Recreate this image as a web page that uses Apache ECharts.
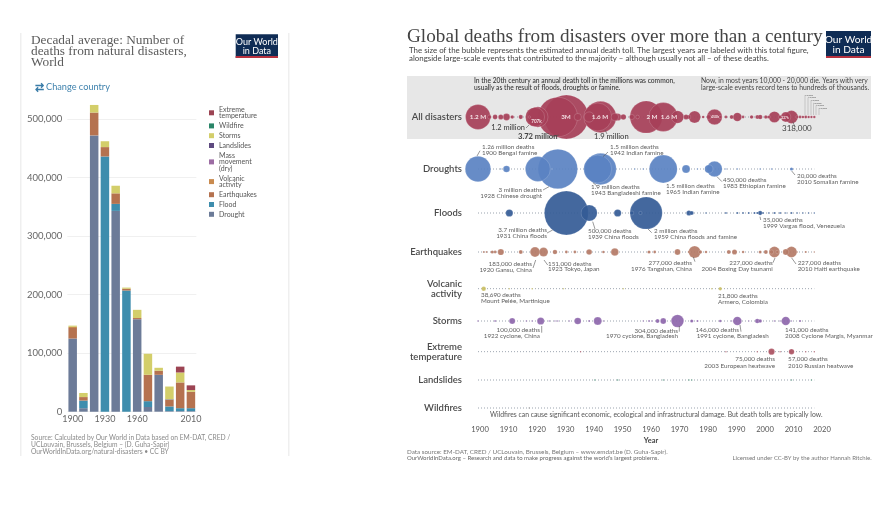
<!DOCTYPE html>
<html><head><meta charset="utf-8">
<style>html,body{margin:0;padding:0;background:#fff}#c{width:887px;height:505px}</style>
<script src="https://cdn.jsdelivr.net/npm/echarts@6/dist/echarts.min.js"></script></head>
<body><div id="c"></div>
<script>
// ---- Left chart: decadal averages ----
const decades = ['1900','1910','1920','1930','1940','1950','1960','1970','1980','1990','2000','2010'];
const drought    = [125000,6000,472000,0,343000,0,158000,8000,63000,1000,1000,1000];
const flood      = [0,13000,0,436000,12000,207000,0,10000,0,8000,5000,5000];
const earthquake = [18000,6000,39000,16000,18000,3000,2000,45000,7000,11000,44000,28000];
const volcanic   = [2000,0,0,0,0,0,0,0,0,0,0,0];
const massMove   = [0,0,0,0,0,0,0,0,0,0,0,0];
const landslides = [0,0,0,0,0,0,0,0,0,1000,0,0];
const storms     = [2000,7000,13000,10000,13000,2000,14000,36000,5000,22000,17000,3000];
const wildfire   = [0,0,0,0,0,0,0,0,0,0,0,0];
const extreme    = [0,0,0,0,0,0,0,0,0,0,10000,8000];

// ---- Right chart: annual deaths by year ----
const rowAll = [[1931,3720000],[1928,3000000],[1959,2000000],[1943,1900000],[1965,1600000],[1942,1500000],[1900,1200000],[1921,800000],[1920,707000],[1983,450000],[2010,318000],[1970,300000],[1976,277000],[2004,240000],[2008,190000],[1991,146000],[1910,90000],[1906,45000],[1908,50000],[1904,30000],[1915,35000],[1912,25000],[1918,12000],[1949,100000],[1951,60000],[1954,50000],[1974,30000],[1973,50000],[1981,40000],[1987,15000],[1989,30000],[1993,15000],[1996,25000],[1998,30000],[1999,40000],[2001,25000],[2002,20000],[2006,25000],[2012,15000],[2013,15000],[2014,14000],[2015,15000],[2016,12000],[2017,11000],[2018,12000],[1935,100000],[1939,200000],[1948,110000],[1956,25000],[1979,14000],[1985,20000]];
const rowDroughts = [[1928,3000000],[1943,1900000],[1965,1500000],[1942,1500000],[1900,1260000],[1921,1200000],[1983,450000],[1973,120000],[1981,130000],[1910,85000],[2010,20000],[1926,3000],[1908,2000],[1955,3000],[1958,3000],[1977,3000],[1987,3000],[1991,4000],[1999,3000],[2003,3000]];
const rowFloods = [[1931,3700000],[1959,2000000],[1939,500000],[1949,100000],[1911,100000],[1974,50000],[1975,30000],[1954,30000],[1957,20000],[1999,35000],[1980,5000],[1987,6000],[1991,7000],[1993,6000],[1995,7000],[1997,8000],[1998,9000],[2000,7000],[2002,5000],[2004,7000],[2006,6000],[2008,5000],[2010,7000],[2012,5000],[2014,5000],[2016,5000],[2018,4000]];
const rowEarthquakes = [[2010,227000],[2004,227000],[1920,183000],[1976,277000],[1923,151000],[1948,110000],[1970,66000],[1908,75000],[1939,60000],[1927,40000],[2008,70000],[1915,30000],[2005,20000],[2001,30000],[1990,50000],[1988,30000],[1905,20000],[1906,15000],[1902,6000],[1903,6000],[1931,15000],[1934,15000],[1944,12000],[1960,20000],[1962,15000],[1978,25000],[1974,10000],[1980,12000],[1993,12000],[1999,18000],[2003,35000],[2012,4000],[2015,9000],[2018,4000]];
const rowVolcanic = [[1902,38690],[1985,21800],[1919,5000],[1911,1500],[1930,1500],[1951,3000],[1982,3000]];
const rowStorms = [[1970,304000],[1991,146000],[2008,141000],[1942,120000],[1922,100000],[1935,85000],[1912,70000],[1965,65000],[1963,30000],[1998,40000],[1999,25000],[1985,12000],[1975,20000],[1906,6000],[1900,5000],[1917,5000],[1919,5000],[1925,5000],[1927,4000],[1928,5000],[1932,4000],[1939,7000],[1944,3000],[1960,6000],[1961,5000],[1977,8000],[2013,9000],[2004,5000],[2006,5000],[2010,3000],[1989,3000],[1958,3000],[1995,3000]];
const rowExtreme = [[2003,75000],[2010,57000],[1936,3000],[2015,3000],[2018,2000],[2006,2000],[1987,1500],[1998,2500]];
const rowLandslides = [[1949,5000],[1941,4000],[1965,1500],[1974,3000],[1975,3000],[2010,3000],[2017,2000]];
const rowWildfires = [[1918,1200]];

const bubbleRows = [
 {name:'All disasters', y:117, color:'#A63F58', values:rowAll},
 {name:'Droughts', y:169, color:'#5A82C2', values:rowDroughts},
 {name:'Floods', y:213, color:'#345B96', values:rowFloods},
 {name:'Earthquakes', y:252, color:'#B47A66', values:rowEarthquakes},
 {name:'Volcanic\nactivity', y:288.7, color:'#C9BE62', values:rowVolcanic},
 {name:'Storms', y:321, color:'#8D66AB', values:rowStorms},
 {name:'Extreme\ntemperature', y:351.7, color:'#AA505F', values:rowExtreme},
 {name:'Landslides', y:380, color:'#3F8A6E', values:rowLandslides},
 {name:'Wildfires', y:408, color:'#8a8a8a', values:rowWildfires}
];
const axisYears = [1900,1910,1920,1930,1940,1950,1960,1970,1980,1990,2000,2010,2020];

const BODY = 'Lato, "Noto Sans", sans-serif';
const SERIF = '"Liberation Serif", "DejaVu Serif", serif';
const G = [];
function rect(x,y,w,h,fill){G.push({type:'rect',silent:true,z:0,shape:{x,y,width:w,height:h},style:{fill}})}
function note(x,y,lines,o){o=o||{};[].concat(lines).forEach((t,i)=>G.push({type:'text',silent:true,z:o.z||5,style:{
  x:x,y:y+i*(o.lh||6.3),text:t,fill:o.fill||'#5e5e5e',fontSize:o.fs||6.3,fontFamily:o.ff||BODY,fontWeight:o.fw||'normal',align:o.align||'left',verticalAlign:'middle'}}))}
function arrow(x1,y1,x2,y2){G.push({type:'line',silent:true,z:5,shape:{x1,y1,x2,y2},style:{stroke:'#555',lineWidth:.6}})}
function logo(x,y,w,h,fs){rect(x,y,w,h,'#0F2C55');rect(x,y+h-2,w,2,'#B8323F');
  note(x+w/2,y+h*.31,['Our World','in Data'],{fill:'#fff',fs:fs,align:'center',lh:fs*1.05})}

// panels
rect(20,33,1.5,423,'#efefef');rect(288,33,1.5,423,'#efefef');
rect(407,76,464,63,'#E7E7E7');
logo(235.7,34.3,42.3,23.7,9);logo(826,31,45,27,10.2);
// left texts
note(31,40.7,['Decadal average: Number of','deaths from natural disasters,','World'],{ff:SERIF,fs:13.3,lh:11,fill:'#5b5b5b'});
note(35,87,'⇄',{fs:11,fill:'#3A7CA8',fw:'bold'});
note(46,87,'Change country',{fs:9.2,fill:'#3F82AD'});
note(31,438,['Source: Calculated by Our World in Data based on EM-DAT, CRED /','UCLouvain, Brussels, Belgium – (D. Guha-Sapir)','OurWorldInData.org/natural-disasters • CC BY'],{fs:6.7,lh:7,fill:'#8a8a8a'});
// right header
note(407,36.5,'Global deaths from disasters over more than a century',{ff:SERIF,fs:19.2,fill:'#444'});
note(409,50,['The size of the bubble represents the estimated annual death toll. The largest years are labeled with this total figure,','alongside large-scale events that contributed to the majority – although usually not all – of these deaths.'],{fs:7.9,lh:8.2,fill:'#444'});
note(474,81,['In the 20th century an annual death toll in the millions was common,','usually as the result of floods, droughts or famine.'],{fs:6.7,lh:6.8,fill:'#333',fw:500});
note(701,81,['Now, in most years 10,000 - 20,000 die. Years with very','large-scale events record tens to hundreds of thousands.'],{fs:6.8,lh:7,fill:'#444'});
// bubble labels
[[478,'1.2 M'],[566,'3M'],[600,'1.6 M'],[652,'2 M'],[669,'1.6 M']].forEach(b=>note(b[0],117,b[1],{fs:6.3,fw:'bold',fill:'#f3dfe3',align:'center',z:6}));
note(536.5,122,'707k',{fs:4.6,fw:'bold',fill:'#f3dfe3',align:'center',z:6});
note(715,117,'450k',{fs:3.6,fw:'bold',fill:'#f3dfe3',align:'center',z:6});
note(785,117.5,'227k',{fs:3.2,fw:'bold',fill:'#f3dfe3',align:'center',z:6});
// all-disasters annotations
note(525,127.7,'1.2 million',{fs:7.4,align:'right',fw:500,fill:'#444'});
note(518,136.7,'3.72 million',{fs:7.6,fw:'bold',fill:'#444'});
note(594,136.7,'1.9 million',{fs:7.6,fw:500,fill:'#444'});
note(782,128.5,'318,000',{fs:8,fill:'#444'});
arrow(526,128,529,125);arrow(552,136.7,559,135);arrow(607,134,605,130);arrow(795,126.7,792.7,121.7);
[805,808,811,813.5,816,819].forEach((x,i)=>{G.push({type:'line',silent:true,z:5,shape:{x1:x,y1:115,x2:x,y2:95+i*2.6},style:{stroke:'#888',lineWidth:.35}});
  note(x,95+i*2.6,'10,000',{fs:2.6,fill:'#666'})});
// row annotations
note(482,147,['1.26 million deaths','1900 Bengal famine']);arrow(477,156,480,150.7);
note(610,147,['1.5 million deaths','1942 Indian famine']);arrow(608,152,603,156.7);
note(542,190,['3 million deaths','1928 Chinese drought'],{align:'right'});arrow(543,190,549,186.7);
note(591,187,['1.9 million deaths','1943 Bangladeshi famine']);arrow(597,186,593,182.7);
note(666,186,['1.5 million deaths','1965 Indian famine']);
note(723,180,['450,000 deaths','1983 Ethiopian famine']);arrow(722,181.7,717,176.7);
note(797,176,['20,000 deaths','2010 Somalian famine']);arrow(795,175,791.7,171);
note(547,230,['3.7 million deaths','1931 China floods'],{align:'right'});arrow(547,233,552.7,230);
note(588,231,['500,000 deaths','1939 China floods']);arrow(595,229,592.7,221.7);
note(654,230.7,['2 million deaths','1959 China floods and famine']);arrow(651.7,232.7,648,229);
note(763,220,['35,000 deaths','1999 Vargas flood, Venezuela']);arrow(760.7,220,760,216.7);
note(532,264,['183,000 deaths','1920 Gansu, China'],{align:'right',lh:5.8});arrow(533,268,535.7,260);
note(548,263.6,['151,000 deaths','1923 Tokyo, Japan'],{lh:5.8});arrow(547.7,265,544,260);
note(692,263,['277,000 deaths','1976 Tangshan, China'],{align:'right'});arrow(695,261.7,693.3,257);
note(772.7,263,['227,000 deaths','2004 Boxing Day tsunami'],{align:'right'});arrow(773,262.7,775,258);
note(797.7,263,['227,000 deaths','2010 Haiti earthquake']);arrow(796,264,791.7,258);
note(481,295,['38,690 deaths','Mount Pelée, Martinique']);
note(718,295.5,['21,800 deaths','Armero, Colombia']);
note(540,330,['100,000 deaths','1922 cyclone, China'],{align:'right',lh:5.8});arrow(541.7,332.7,541.7,326);
note(678,330.5,['304,000 deaths','1970 cyclone, Bangladesh'],{align:'right',lh:5.8});arrow(679.3,331.7,679.3,326);
note(739,330,['146,000 deaths'],{align:'right'});note(696.7,336,'1991 cyclone, Bangladesh');arrow(741,331.7,740,325);
note(785,330,['141,000 deaths','2008 Cyclone Margis, Myanmar'],{lh:5.8});
note(775,359.3,['75,000 deaths','2003 European heatwave'],{align:'right'});
note(788,359.3,['57,000 deaths','2010 Russian heatwave']);
note(490,415,'Wildfires can cause significant economic, ecological and infrastructural damage. But death tolls are typically low.',{fs:6.8,fill:'#555'});
// footer
note(407,451.7,'Data source: EM-DAT, CRED / UCLouvain, Brussels, Belgium – www.emdat.be (D. Guha-Sapir).',{fs:6.3,fill:'#777'});
note(407,458,'OurWorldInData.org – Research and data to make progress against the world\u2019s largest problems.',{fs:6,fill:'#666'});
note(871.7,458,'Licensed under CC-BY by the author Hannah Ritchie.',{fs:6,fill:'#777',align:'right'});

// ---- series ----
const stackDefs = [
 ['Drought',drought,'#6C7B98'],['Flood',flood,'#3E8DAD'],['Earthquakes',earthquake,'#B5724F'],
 ['Volcanic\nactivity',volcanic,'#C98B4F'],['Mass\nmovement\n(dry)',massMove,'#9C6CA3'],['Landslides',landslides,'#5E4A80'],
 ['Storms',storms,'#D3CE6A'],['Wildfire',wildfire,'#2A8568'],['Extreme\ntemperature',extreme,'#9C4453']];
const series = stackDefs.map(d=>({type:'bar',name:d[0],stack:'d',data:d[1],barWidth:8.5,xAxisIndex:0,yAxisIndex:0,clip:false,
  itemStyle:{color:d[2]},emphasis:{disabled:true}}));

const grids=[{left:67.3,top:119,width:129,height:292.7}];
const xAxes=[{type:'category',gridIndex:0,data:decades,
  axisLine:{show:false},axisTick:{show:false},
  axisLabel:{color:'#666',fontSize:9,fontFamily:BODY,margin:3,
    interval:(i,v)=>['1900','1930','1960','2010'].includes(v)}}];
const yAxes=[{type:'value',gridIndex:0,min:0,max:500000,interval:100000,
  axisLine:{show:false},axisTick:{show:false},
  splitLine:{lineStyle:{color:'#ececec',width:.8}},
  axisLabel:{color:'#666',fontSize:9.5,fontFamily:BODY,margin:5,formatter:v=>v.toLocaleString('en-US')}}];

const SIZE = 0.0228;
bubbleRows.forEach((r,i)=>{
  const k=i+1;
  grids.push({left:478,top:r.y-.5,width:336.3,height:1});
  xAxes.push({type:'value',gridIndex:k,min:1900,max:2018,axisLine:{show:false},axisTick:{show:false},axisLabel:{show:false},splitLine:{show:false}});
  yAxes.push({type:'category',gridIndex:k,data:[r.name],axisLine:{show:false},axisTick:{show:false},
    axisLabel:{color:'#4a4a4a',fontSize:9.5,fontWeight:600,fontFamily:BODY,margin:16,lineHeight:9.5,align:'right'}});
  series.push({type:'line',name:r.name+' baseline',xAxisIndex:k,yAxisIndex:k,clip:false,z:1,silent:true,symbol:'none',
    data:[[1900,r.name],[2018,r.name]],lineStyle:{color:'#8f99a5',width:.9,type:[1,2]}});
  series.push({type:'scatter',name:r.name+' deaths',xAxisIndex:k,yAxisIndex:k,clip:false,z:2,
    data:r.values.map(v=>[v[0],r.name,v[1]]),
    symbolSize:v=>Math.max(1.4,Math.sqrt(v[2])*SIZE),
    itemStyle:{color:r.color,opacity:.92,borderColor:'rgba(255,255,255,.35)',borderWidth:.5},
    emphasis:{disabled:true}});
});
// year axis
const ax=grids.length;
grids.push({left:480,top:421,width:342,height:1});
xAxes.push({type:'value',gridIndex:ax,min:1900,max:2020,interval:10,axisLine:{show:false},axisTick:{show:false},splitLine:{show:false},
  axisLabel:{color:'#555',fontSize:7.6,fontFamily:BODY,margin:4,formatter:v=>axisYears.includes(v)?String(v):''},
  name:'Year',nameLocation:'middle',nameGap:15,nameTextStyle:{color:'#444',fontSize:7.4,fontWeight:'bold',fontFamily:BODY}});
yAxes.push({type:'value',gridIndex:ax,show:false,min:0,max:1});
series.push({type:'scatter',name:'axis',xAxisIndex:ax,yAxisIndex:ax,data:[],silent:true});

const chart=echarts.init(document.getElementById('c'),null,{renderer:'canvas'});
chart.setOption({
  animation:false,backgroundColor:'#fff',
  grid:grids,xAxis:xAxes,yAxis:yAxes,series:series,
  legend:{show:true,orient:'vertical',left:204,top:101,icon:'rect',itemWidth:5,itemHeight:5,itemGap:2.8,selectedMode:false,
    data:stackDefs.map(d=>d[0]).reverse(),
    textStyle:{color:'#555',fontSize:7,lineHeight:6.6,fontFamily:BODY}},
  graphic:G
});
</script></body></html>
